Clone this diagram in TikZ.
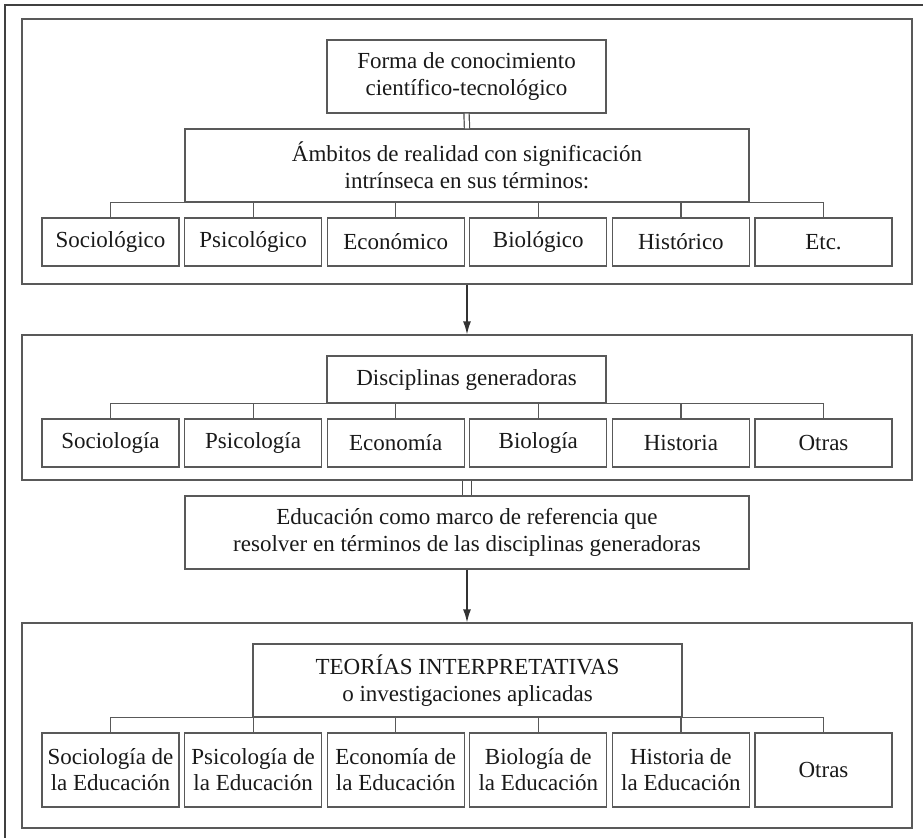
\documentclass[tikz,border=0pt]{standalone}
\usepackage{fontspec}
\setmainfont{Liberation Serif}
\usetikzlibrary{arrows.meta}

\begin{document}
\begin{tikzpicture}[x=1pt, y=-1pt,
    every node/.style={font=\fontsize{23}{27}\selectfont, text=black!90},
    panel/.style={draw=black!65, line width=1.2pt, inner sep=0pt},
    box/.style={draw=black!65, line width=1.2pt, align=center, inner sep=0pt},
    leaf/.style={box, minimum width=137pt, minimum height=48pt},
    link/.style={draw=black!65, line width=1.2pt},
    pair/.style={draw=black!70, line width=1.2pt, double=white, double distance=#1},
    flow/.style={draw=black!80, line width=1.4pt, -{Latex[length=13pt,width=8pt]}}
]
    \useasboundingbox (0,0) rectangle (923,838);

    % Outer frame (only top and left show)
    \draw[black!75, line width=1.8pt] (923,5) -- (5,5) -- (5,838);

    % Panels
    \node[panel, minimum width=890pt, minimum height=265pt] (panA) at (467,151.5) {};
    \node[panel, minimum width=890pt, minimum height=145pt] (panB) at (467,407.5) {};
    \node[panel, minimum width=890pt, minimum height=205pt] (panC) at (467,725.5) {};

    % Panel A
    \node[box, minimum width=279pt, minimum height=73pt] (forma) at (466.5,76.5)
        {Forma de conocimiento\\científico-tecnológico};
    \node[box, minimum width=564pt, minimum height=73pt] (ambitos) at (467,165.5)
        {Ámbitos de realidad con significación\\intrínseca en sus términos:};
    \foreach \txt [count=\i] in {Sociológico, Psicológico, Económico, Biológico, Histórico, Etc.}
        \node[leaf] (a\i) at (-32.1+142.6*\i,242) {\txt};

    % Panel B
    \node[box, minimum width=279pt, minimum height=47pt] (discip) at (466.5,379.5)
        {Disciplinas generadoras};
    \foreach \txt [count=\i] in {Sociología, Psicología, Economía, Biología, Historia, Otras}
        \node[leaf] (b\i) at (-32.1+142.6*\i,443) {\txt};

    % Between B and C
    \node[box, minimum width=564pt, minimum height=73pt] (educ) at (467,532.5)
        {Educación como marco de referencia que\\resolver en términos de las disciplinas generadoras};

    % Panel C
    \node[box, minimum width=429pt, minimum height=73pt] (teorias) at (467.5,680.5)
        {TEORÍAS INTERPRETATIVAS\\o investigaciones aplicadas};
    \foreach \txt [count=\i] in {{Sociología de\\la Educación}, {Psicología de\\la Educación},
        {Economía de\\la Educación}, {Biología de\\la Educación}, {Historia de\\la Educación}, Otras}
        \node[leaf, minimum height=74pt, font=\fontsize{23}{26}\selectfont] (c\i) at (-32.1+142.6*\i,770) {\txt};

    % Edges
    \draw[pair=4pt] (forma.south) -- (ambitos.north);
    \draw[link] (a1.north) |- (ambitos.south) -| (a6.north);
    \draw[link] (b1.north) |- (discip.south) -| (b6.north);
    \draw[link] (c1.north) |- (teorias.south) -| (c6.north);
    \foreach \i in {2,...,5} {
        \draw[link] (a\i.north) -- (a\i.north |- ambitos.south);
        \draw[link] (b\i.north) -- (b\i.north |- discip.south);
        \draw[link] (c\i.north) -- (c\i.north |- teorias.south);
    }
    \draw[flow] (panA.south) -- (panB.north);
    \draw[pair=8pt] (panB.south) -- (educ.north);
    \draw[flow] (educ.south) -- (panC.north);

\end{tikzpicture}
\end{document}
